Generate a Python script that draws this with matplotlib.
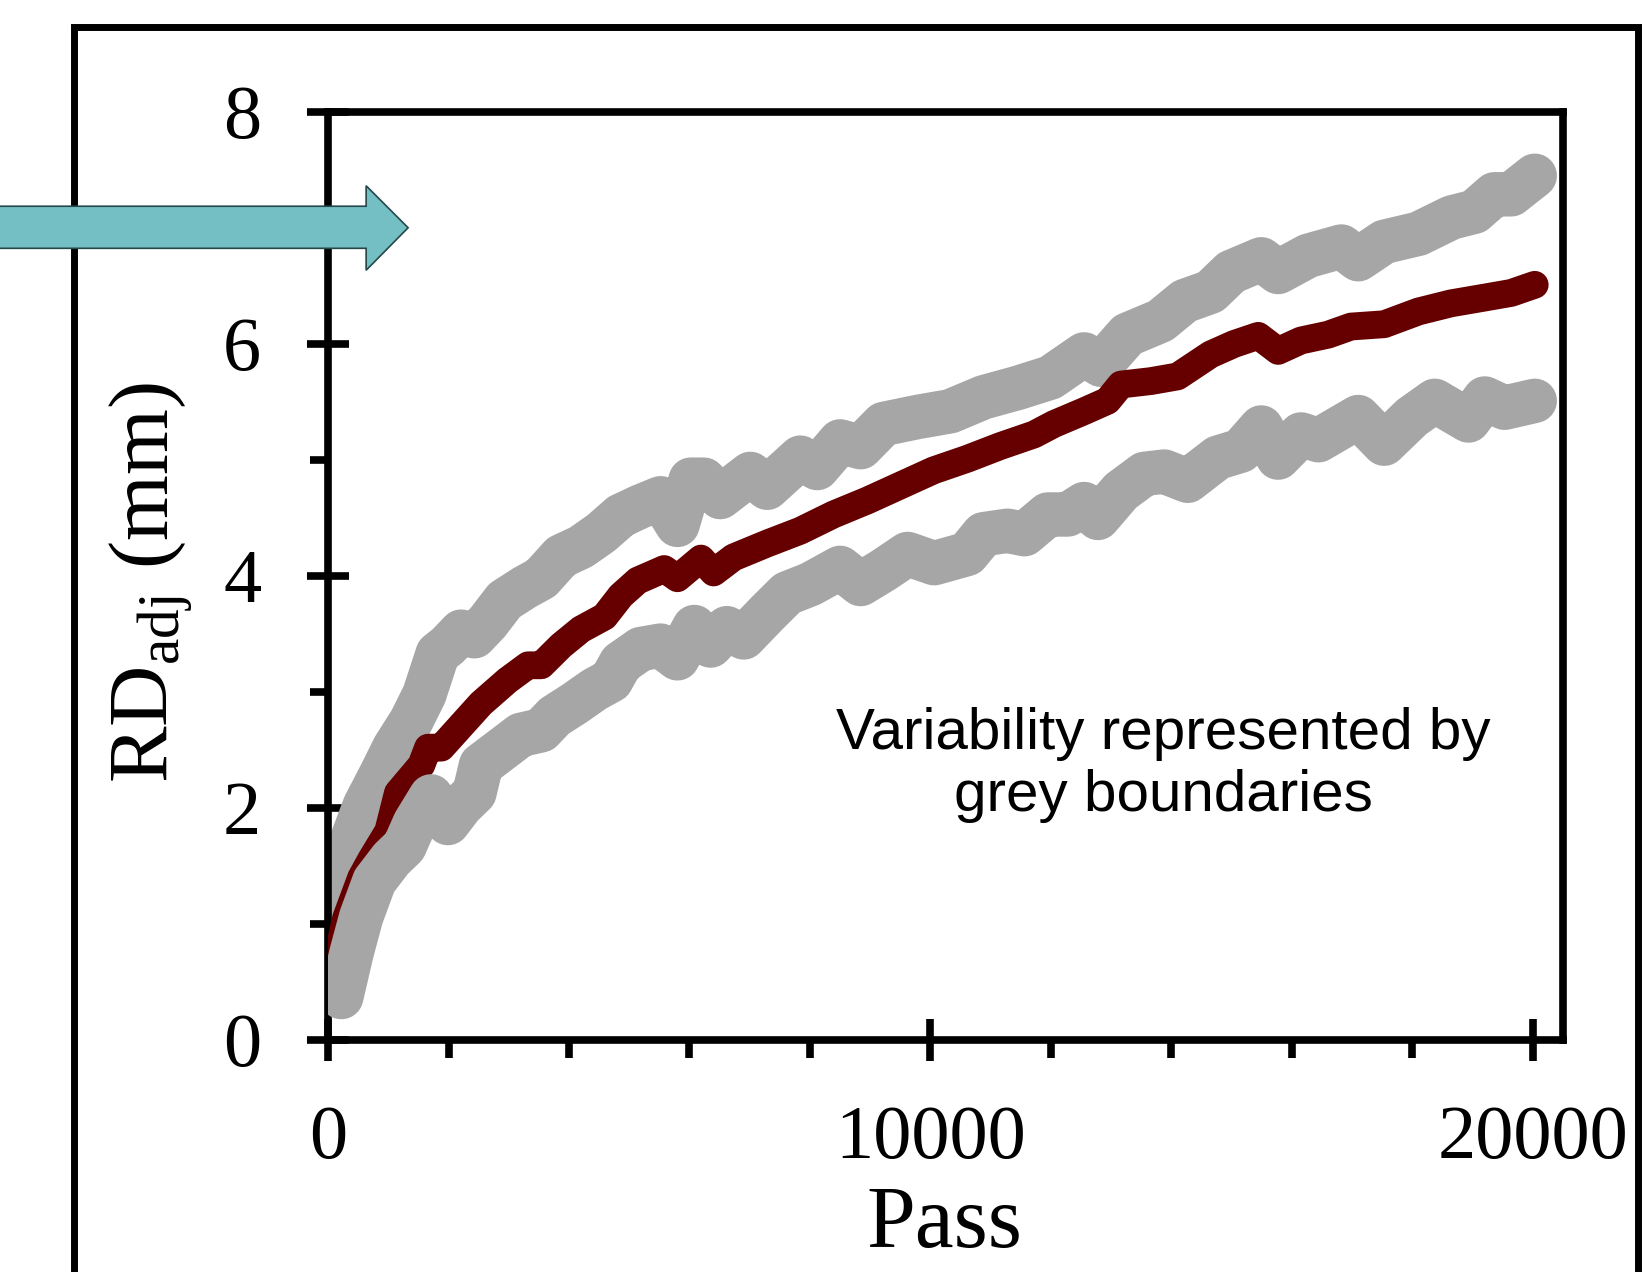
import matplotlib
matplotlib.use("Agg")
import matplotlib.pyplot as plt
from matplotlib.patches import Polygon, Rectangle
from matplotlib.ticker import MultipleLocator

# ---------------- data ----------------
mean_pass = [60, 300, 550, 720, 1000, 1160, 1550, 1660, 1880, 2210, 2540, 2980,
             3320, 3540, 3870, 4200, 4590, 4860, 5140, 5580, 5800, 6190, 6400,
             6730, 7290, 7840, 8390, 8950, 9500, 10050, 10610, 11160, 11720,
             12050, 12550, 12940, 13160, 13660, 14100, 14650, 15040, 15440,
             15770, 16150, 16600, 16980, 17530, 18100, 18640, 19200, 19640, 20030]
mean_rd = [0.50, 1.05, 1.40, 1.56, 1.80, 2.13, 2.37, 2.52, 2.52, 2.71, 2.90, 3.10,
           3.23, 3.23, 3.40, 3.54, 3.65, 3.83, 3.96, 4.06, 3.98, 4.15, 4.03,
           4.16, 4.28, 4.39, 4.53, 4.65, 4.78, 4.91, 5.01, 5.12, 5.22,
           5.31, 5.42, 5.51, 5.65, 5.68, 5.72, 5.91, 6.00, 6.07,
           5.94, 6.03, 6.08, 6.15, 6.17, 6.28, 6.35, 6.40, 6.44, 6.51]

upper_pass = [100, 330, 610, 880, 1100, 1380, 1600, 1820, 1990, 2210, 2430, 2650,
              2930, 3260, 3540, 3870, 4200, 4530, 4860, 5190, 5520, 5800, 6020,
              6240, 6510, 7010, 7290, 7840, 8120, 8500, 8840, 9220, 9780, 10330,
              10880, 11440, 11990, 12550, 12830, 13270, 13820, 14220, 14650,
              14990, 15490, 15770, 16270, 16820, 17100, 17530, 18100, 18650,
              19030, 19360, 19640, 20030]
upper_rd = [0.75, 1.63, 2.02, 2.29, 2.52, 2.75, 2.98, 3.33, 3.40, 3.52, 3.48, 3.60,
            3.79, 3.90, 3.98, 4.17, 4.25, 4.37, 4.52, 4.60, 4.67, 4.44, 4.83,
            4.83, 4.68, 4.88, 4.76, 5.02, 4.93, 5.16, 5.11, 5.31, 5.37, 5.42,
            5.54, 5.62, 5.71, 5.91, 5.82, 6.08, 6.20, 6.37, 6.45,
            6.62, 6.73, 6.62, 6.76, 6.84, 6.73, 6.88, 6.95, 7.09,
            7.14, 7.29, 7.29, 7.45]

lower_pass = [220, 390, 550, 770, 1050, 1270, 1440, 1710, 1990, 2210, 2430, 2540,
              2820, 3200, 3540, 3760, 4090, 4420, 4700, 4860, 5190, 5520, 5800,
              6080, 6350, 6620, 6900, 7290, 7620, 8010, 8500, 8840, 9220, 9620,
              10060, 10610, 10880, 11280, 11560, 11950, 12280, 12550, 12780,
              13160, 13550, 13880, 14270, 14770, 15150, 15490, 15770, 16150,
              16440, 17100, 17530, 17990, 18370, 18930, 19200, 19530, 20030]
lower_rd = [0.37, 0.75, 1.06, 1.37, 1.56, 1.67, 1.87, 2.10, 1.87, 2.02, 2.13, 2.37,
            2.48, 2.63, 2.67, 2.79, 2.90, 3.02, 3.10, 3.25, 3.37, 3.40, 3.29,
            3.56, 3.40, 3.55, 3.47, 3.68, 3.85, 3.93, 4.07, 3.93, 4.05, 4.19,
            4.11, 4.19, 4.36, 4.39, 4.36, 4.53, 4.53, 4.62, 4.50,
            4.73, 4.88, 4.90, 4.82, 5.02, 5.08, 5.28, 5.02, 5.22,
            5.17, 5.37, 5.14, 5.37, 5.51, 5.34, 5.53, 5.45, 5.51]

x_major_ticks = [0, 10000, 20000]
y_major_ticks = [0, 2, 4, 6, 8]
note_text = "Variability represented by\ngrey boundaries"

# ---------------- styling ----------------
plt.rcParams['font.family'] = ['Liberation Serif', 'DejaVu Serif']
plt.rcParams['mathtext.fontset'] = 'custom'
plt.rcParams['mathtext.rm'] = 'Liberation Serif'
plt.rcParams['mathtext.it'] = 'Liberation Serif:italic'

GREY = '#A6A6A6'
RED = '#660000'
W = 16.45
H = 12.72
fig = plt.figure(figsize=(W, H), dpi=100)

ax = fig.add_axes([0.1994, 0.1824, 0.7508, 0.7296])
ax.set_xlim(0, 20500)
ax.set_ylim(0, 8)

ax.plot(upper_pass, upper_rd, color=GREY, lw=32, solid_capstyle='round',
        solid_joinstyle='round', zorder=2)
ax.plot(mean_pass, mean_rd, color=RED, lw=20, solid_capstyle='round',
        solid_joinstyle='round', zorder=3)
ax.plot(lower_pass, lower_rd, color=GREY, lw=32, solid_capstyle='round',
        solid_joinstyle='round', zorder=4)

for s in ax.spines.values():
    s.set_linewidth(5.5)
    s.set_color('black')

ax.set_xticks(x_major_ticks)
ax.set_xticklabels([str(v) for v in x_major_ticks])
ax.xaxis.set_minor_locator(MultipleLocator(2000))
ax.set_yticks(y_major_ticks)
ax.set_yticklabels([str(v) for v in y_major_ticks])
ax.yaxis.set_minor_locator(MultipleLocator(1))

ax.tick_params(axis='both', which='major', direction='inout', length=30,
               width=5.5, labelsize=55, color='black')
ax.tick_params(axis='both', which='minor', direction='out', length=13,
               width=5.5, color='black')
ax.tick_params(axis='y', which='major', pad=33)
ax.tick_params(axis='x', which='major', pad=32)

ax.text(13860, 2.37, note_text, ha='center', va='center', fontsize=42,
        family=['Liberation Sans', 'DejaVu Sans'], linespacing=1.2, zorder=5)

# axis titles
fig.text(0.574, 0.0198, 'Pass', fontsize=63, ha='center', va='baseline')
fig.text(0.103, 0.542, r'RD$_{\mathrm{adj}}$ (mm)', fontsize=61, rotation=90,
         ha='center', va='baseline', rotation_mode='anchor')

# outer frame
fig.patches.append(Rectangle((74 / 1645, -0.1), (1638 - 74) / 1645, 0.1 + (1 - 27 / 1272),
                             transform=fig.transFigure, fill=False,
                             edgecolor='black', lw=5, zorder=0))

# teal block arrow
def fx(px):
    return px / 1568

def fy(py):
    return 1 - py / 1212

arrow_pts = [(fx(-5), fy(196.5)), (fx(349), fy(196.5)), (fx(349), fy(177)),
             (fx(389), fy(217)), (fx(349), fy(257.5)), (fx(349), fy(236.6)),
             (fx(-5), fy(236.6))]
fig.patches.append(Polygon(arrow_pts, closed=True, transform=fig.transFigure,
                           facecolor='#73BFC4', edgecolor='#24474A', lw=1.2,
                           zorder=10))

fig.savefig('out.png', dpi=100)
